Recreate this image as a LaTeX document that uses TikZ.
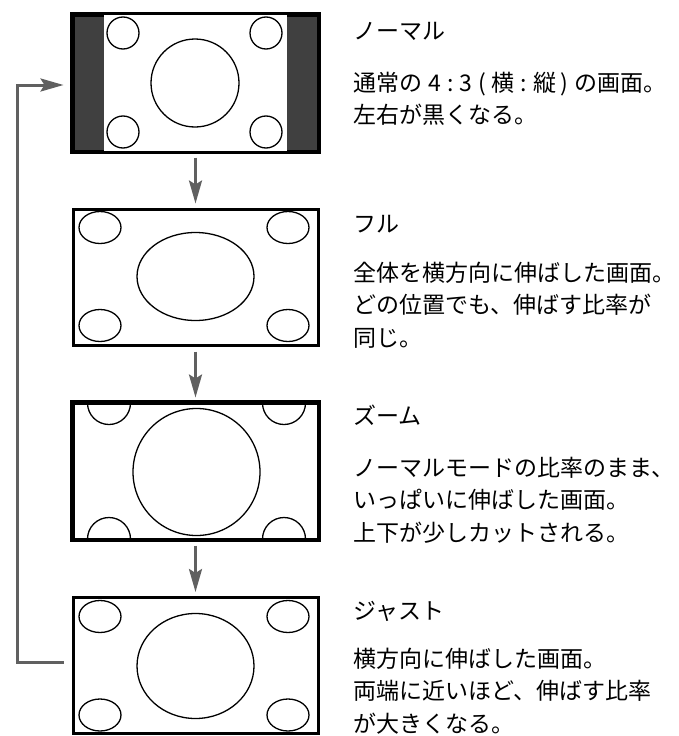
\documentclass[tikz,border=0pt]{standalone}
\usepackage{fontspec}
\newfontfamily\jp{Noto Sans CJK JP}
\usetikzlibrary{arrows.meta}
\definecolor{darkband}{HTML}{404040}
\definecolor{arrowgray}{HTML}{606060}
\newcommand{\jplines}[1]{\vtop{\baselineskip=32.5pt\lineskiplimit=0pt\lineskip=0pt #1}}
\begin{document}
\begin{tikzpicture}[x=1pt,y=-1pt,
  screen/.style={draw=black,line width=3pt,rectangle,inner sep=0pt,minimum width=245pt,minimum height=136pt},
  figline/.style={draw=black,line width=1.3pt},
  conn/.style={draw=arrowgray,line width=3pt,-{Stealth[length=23pt,width=13pt,inset=4pt]}},
  title/.style={anchor=base west,font=\jp\fontsize{23}{32.5}\selectfont,inner sep=0pt},
  body/.style={anchor=base west,font=\jp\fontsize{23}{32.5}\selectfont,inner sep=0pt}]
\useasboundingbox (0,0) rectangle (678,736);

% ---------- frame 1: normal ----------
\node[screen,fill=darkband] (normal) at (195.5,83) {};
\fill[white] (104,14) rectangle (287,152);
\draw[line width=3pt] (normal.north west) rectangle (normal.south east);
\draw[figline] (123,33) circle (16);
\draw[figline] (266,33) circle (16);
\draw[figline] (123,132) circle (16);
\draw[figline] (266,132) circle (16);
\draw[figline] (195,83) circle (44);

% ---------- frame 2: full ----------
\node[screen] (full) at (195.5,277) {};
\draw[figline] (100,227.5) ellipse (21 and 16);
\draw[figline] (288,227.5) ellipse (21 and 16);
\draw[figline] (100,325.5) ellipse (21 and 16);
\draw[figline] (288,325.5) ellipse (21 and 16);
\draw[figline] (195.5,276.5) ellipse (58.5 and 44);

% ---------- frame 3: zoom ----------
\node[screen] (zoom) at (195.5,471) {};
\begin{scope}
\clip (zoom.north west) rectangle (zoom.south east);
\draw[figline] (109,403) circle (21.5);
\draw[figline] (284,403) circle (21.5);
\draw[figline] (109,539) circle (21.5);
\draw[figline] (284,539) circle (21.5);
\end{scope}
\draw[figline] (196.5,472) circle (63.5);
\draw[line width=3pt] (zoom.north west) rectangle (zoom.south east);

% ---------- frame 4: just ----------
\node[screen] (just) at (195.5,665.5) {};
\draw[figline] (100,616.5) ellipse (21 and 16);
\draw[figline] (288,616.5) ellipse (21 and 16);
\draw[figline] (100,715) ellipse (21 and 16);
\draw[figline] (288,715) ellipse (21 and 16);
\draw[figline] (195.5,666) ellipse (58.5 and 52.5);

% ---------- connectors ----------
\draw[conn] ([yshift=-5pt]normal.south) -- ([yshift=4pt]full.north);
\draw[conn] ([yshift=-5pt]full.south) -- ([yshift=4pt]zoom.north);
\draw[conn] ([yshift=-5pt]zoom.south) -- ([yshift=4pt]just.north);
\coordinate (loopbot) at (17.5,662);
\coordinate (looptop) at (17.5,85);
\draw[conn] ([xshift=-8pt]just.west |- loopbot) -- (loopbot) -- (looptop) -- ([xshift=-8pt]normal.west |- looptop);

% ---------- texts ----------
\node[title] (t1) at (353,39) {ノーマル};
\node[body] (b1) at (353,91) {\jplines{\hbox{通常の\hspace{0.27em}4\hspace{0.27em}:\hspace{0.27em}3\hspace{0.27em}(\hspace{0.2em}横\hspace{0.27em}:\hspace{0.27em}縦\hspace{0.2em})\hspace{0.27em}の画面。}\hbox{左右が黒くなる。}}};
\node[title] (t2) at (353,232) {フル};
\node[body] (b2) at (353,281) {\jplines{\hbox{全体を横方向に伸ばした画面。}\hbox{どの位置でも、伸ばす比率が}\hbox{同じ。}}};
\node[title] (t3) at (353,424) {ズーム};
\node[body] (b3) at (353,476) {\jplines{\hbox{ノーマルモードの比率のまま、}\hbox{いっぱいに伸ばした画面。}\hbox{上下が少しカットされる。}}};
\node[title] (t4) at (353,619) {ジャスト};
\node[body] (b4) at (353,667) {\jplines{\hbox{横方向に伸ばした画面。}\hbox{両端に近いほど、伸ばす比率}\hbox{が大きくなる。}}};
\end{tikzpicture}
\end{document}
